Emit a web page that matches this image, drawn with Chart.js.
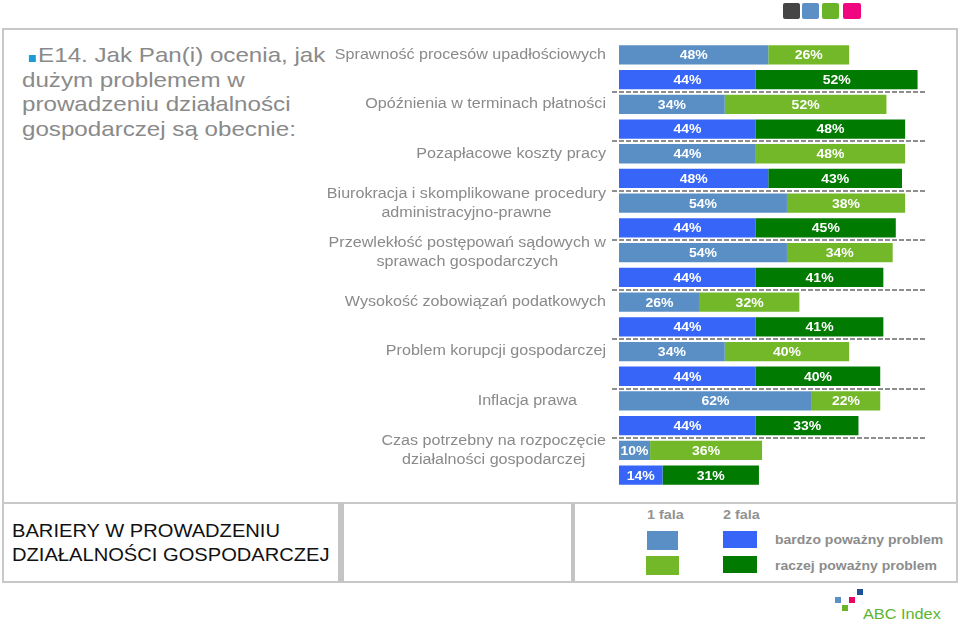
<!DOCTYPE html>
<html lang="pl">
<head>
<meta charset="UTF-8">
<title>E14. Bariery w prowadzeniu działalności gospodarczej</title>
<script src="https://cdn.jsdelivr.net/npm/chart.js"></script>
<style>
    html, body { margin: 0; padding: 0; background: #fff; }
    body { width: 960px; height: 626px; position: relative; overflow: hidden; font-family: Arial, "Liberation Sans", sans-serif; }
    .abs { position: absolute; }
    .txt { position: absolute; white-space: nowrap; transform: scaleX(1.15); transform-origin: 0 50%; }
    #chart { position: absolute; left: 0; top: 0; z-index: 2; }
    .sq { position: absolute; border-radius: 2px; }
</style>
</head>
<body>
    <!-- top colour squares -->
    <div class="sq" style="left:783px;top:3px;width:17px;height:16px;background:#454545"></div>
    <div class="sq" style="left:802px;top:3px;width:17px;height:16px;background:#5b8fc5"></div>
    <div class="sq" style="left:822px;top:3px;width:17px;height:16px;background:#6ab42a"></div>
    <div class="sq" style="left:843px;top:3px;width:18px;height:16px;background:#f0067f"></div>

    <!-- frame -->
    <div class="abs" style="left:2px;top:28px;width:956px;height:555px;border:2px solid #c8c8c8;box-sizing:border-box"></div>
    <div class="abs" style="left:2px;top:502px;width:956px;height:2px;background:#c8c8c8"></div>
    <div class="abs" style="left:338px;top:503px;width:6px;height:79px;background:#c4c4c4"></div>
    <div class="abs" style="left:571px;top:503px;width:4px;height:79px;background:#c4c4c4"></div>

    <!-- title -->
    <div class="txt" style="left:22px;top:43px;font-size:21px;line-height:24.5px;color:#8a8a8a;transform-origin:0 0">
        <span style="display:inline-block;width:6px;height:7px;margin:0 2px 0 6px;background:#1e9bd7"></span>E14. Jak Pan(i) ocenia, jak<br>dużym problemem w<br>prowadzeniu działalności<br>gospodarczej są obecnie:
    </div>

    <!-- bottom-left caption -->
    <div class="txt" style="left:12px;top:519px;font-size:17.5px;line-height:24px;color:#111;transform-origin:0 0">
        BARIERY W PROWADZENIU<br>DZIAŁALNOŚCI GOSPODARCZEJ
    </div>

    <!-- legend -->
    <div class="txt" style="left:647px;top:506px;font-size:12.5px;line-height:18px;font-weight:bold;color:#929292">1 fala</div>
    <div class="txt" style="left:723px;top:506px;font-size:12.5px;line-height:18px;font-weight:bold;color:#929292">2 fala</div>
    <div class="abs" style="left:647px;top:531px;width:31px;height:19px;background:#5a8fc6"></div>
    <div class="abs" style="left:723px;top:531px;width:34px;height:17px;background:#3765f8"></div>
    <div class="abs" style="left:646px;top:556px;width:33px;height:19px;background:#72b828"></div>
    <div class="abs" style="left:723px;top:556px;width:34px;height:17px;background:#007a00"></div>
    <div class="txt" style="left:775px;top:531px;font-size:12.2px;line-height:18px;font-weight:bold;color:#8c8c8c">bardzo poważny problem</div>
    <div class="txt" style="left:775px;top:557px;font-size:12.2px;line-height:18px;font-weight:bold;color:#8c8c8c">raczej poważny problem</div>

    <!-- logo -->
    <div class="abs" style="left:835px;top:597px;width:6px;height:6px;background:#5b8fc5"></div>
    <div class="abs" style="left:842px;top:605px;width:6px;height:6px;background:#6ab42a"></div>
    <div class="abs" style="left:849px;top:597px;width:6px;height:6px;background:#e8065f"></div>
    <div class="abs" style="left:857px;top:589px;width:6px;height:6px;background:#1d4f9c"></div>
    <div class="txt" style="left:863px;top:604px;font-size:15.5px;line-height:20px;color:#5cb531;transform:scaleX(1.05)">ABC Index</div>

    <canvas id="chart" width="960" height="626"></canvas>

<script>
    // categories (one per pair of bars: 1 fala on top, 2 fala below)
    const categoryNames = [
        ['Sprawność procesów upadłościowych'],
        ['Opóźnienia w terminach płatności'],
        ['Pozapłacowe koszty pracy'],
        ['Biurokracja i skomplikowane procedury', 'administracyjno-prawne'],
        ['Przewlekłość postępowań sądowych w', 'sprawach gospodarczych'],
        ['Wysokość zobowiązań podatkowych'],
        ['Problem korupcji gospodarczej'],
        ['Inflacja prawa'],
        ['Czas potrzebny na rozpoczęcie', 'działalności gospodarczej']
    ];

    // % answers
    const wave1Very   = [48, 34, 44, 54, 54, 26, 34, 62, 10];
    const wave1Rather = [26, 52, 48, 38, 34, 32, 40, 22, 36];
    const wave2Very   = [44, 44, 48, 44, 44, 44, 44, 44, 14];
    const wave2Rather = [52, 48, 43, 45, 41, 41, 40, 33, 31];

    const SX = 1.15; // the slide is stretched horizontally

    const rowLabels = categoryNames.flatMap(c => [c, '']);
    const onRow = (vals, offset) => rowLabels.map((_, r) => (r % 2 === offset ? vals[r >> 1] : null));

    const colors = {
        wave1Very: '#5a8fc6',
        wave1Rather: '#72b828',
        wave2Very: '#3765f8',
        wave2Rather: '#007a00'
    };

    // category labels drawn next to the first bar of each pair
    const labelPlugin = {
        id: 'catLabels',
        afterDraw(chart, args, opts) {
            const ctx = chart.ctx;
            const y = chart.scales.y;
            ctx.save();
            ctx.font = '14px Arial, "Liberation Sans", sans-serif';
            ctx.fillStyle = '#8a8a8a';
            ctx.textBaseline = 'middle';
            ctx.textAlign = 'center';
            rowLabels.forEach((lines, r) => {
                if (!lines) return;
                const right = opts.rightEdge[r] || opts.defaultRight;
                const widths = lines.map(l => ctx.measureText(l).width * SX);
                const blockW = Math.max(...widths);
                const cx = right - blockW / 2;
                const cy = y.getPixelForValue(r);
                lines.forEach((l, i) => {
                    const ly = cy + (i - (lines.length - 1) / 2) * opts.lineHeight;
                    ctx.save();
                    ctx.translate(cx, ly);
                    ctx.scale(SX, 1);
                    ctx.fillText(l, 0, 0);
                    ctx.restore();
                });
            });
            ctx.restore();
        }
    };

    // dashed separators between category pairs
    const separatorPlugin = {
        id: 'separators',
        beforeDatasetsDraw(chart, args, opts) {
            const ctx = chart.ctx;
            const y = chart.scales.y;
            ctx.save();
            ctx.strokeStyle = opts.color;
            ctx.lineWidth = 2;
            ctx.setLineDash([5, 2]);
            for (let r = 1; r < rowLabels.length - 1; r += 2) {
                const py = Math.round((y.getPixelForValue(r) + y.getPixelForValue(r + 1)) / 2);
                ctx.beginPath();
                ctx.moveTo(opts.x0, py);
                ctx.lineTo(opts.x1, py);
                ctx.stroke();
            }
            ctx.restore();
        }
    };

    // white % labels inside the segments
    const valuePlugin = {
        id: 'values',
        afterDatasetsDraw(chart) {
            const ctx = chart.ctx;
            ctx.save();
            ctx.font = 'bold 12.5px Arial, "Liberation Sans", sans-serif';
            ctx.fillStyle = '#ffffff';
            ctx.textAlign = 'center';
            ctx.textBaseline = 'middle';
            chart.data.datasets.forEach((ds, i) => {
                chart.getDatasetMeta(i).data.forEach((bar, r) => {
                    const v = ds.data[r];
                    if (v == null) return;
                    ctx.save();
                    ctx.translate((bar.x + bar.base) / 2, bar.y + 1);
                    ctx.scale(1.12, 1);
                    ctx.fillText(v + '%', 0, 0);
                    ctx.restore();
                });
            });
            ctx.restore();
        }
    };

    new Chart(document.getElementById('chart').getContext('2d'), {
        type: 'bar',
        data: {
            labels: rowLabels.map((l, r) => (l ? l.join(' ') : 'row' + r)),
            datasets: [
                { label: '1 fala – bardzo poważny problem', data: onRow(wave1Very, 0), backgroundColor: colors.wave1Very },
                { label: '1 fala – raczej poważny problem', data: onRow(wave1Rather, 0), backgroundColor: colors.wave1Rather },
                { label: '2 fala – bardzo poważny problem', data: onRow(wave2Very, 1), backgroundColor: colors.wave2Very },
                { label: '2 fala – raczej poważny problem', data: onRow(wave2Rather, 1), backgroundColor: colors.wave2Rather }
            ]
        },
        options: {
            indexAxis: 'y',
            responsive: false,
            animation: false,
            devicePixelRatio: 1,
            layout: { padding: { left: 619, right: 30, top: 42.5, bottom: 138.5 } },
            datasets: { bar: { barPercentage: 0.78, categoryPercentage: 1, borderWidth: 0 } },
            scales: {
                x: { stacked: true, min: 0, max: 100, display: false },
                y: { stacked: true, display: false }
            },
            plugins: {
                legend: { display: false },
                tooltip: { enabled: false },
                catLabels: { defaultRight: 606, rightEdge: { 14: 577 }, lineHeight: 19 },
                separators: { color: '#8e8e8e', x0: 612, x1: 926 }
            }
        },
        plugins: [separatorPlugin, valuePlugin, labelPlugin]
    });
</script>
</body>
</html>
